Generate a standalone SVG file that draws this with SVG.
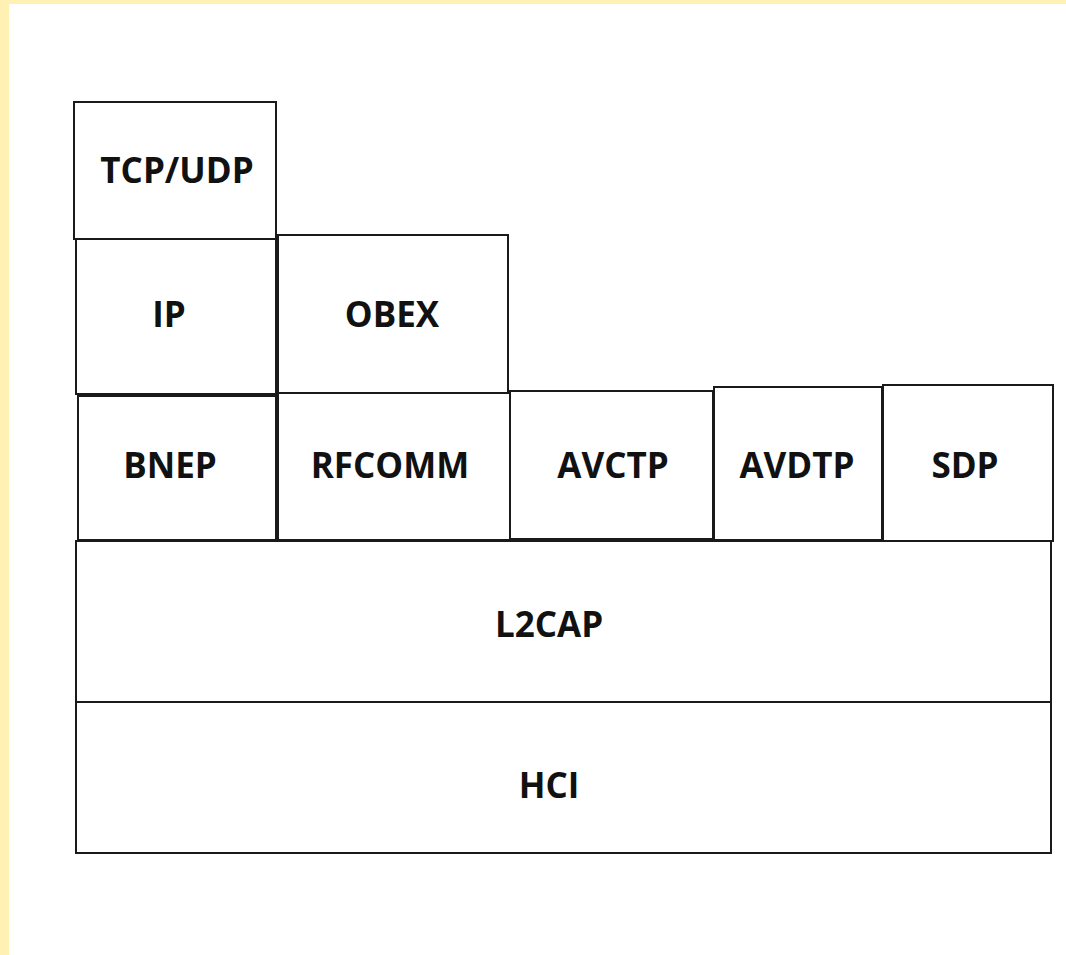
<svg xmlns="http://www.w3.org/2000/svg" width="1066" height="955" viewBox="0 0 1066 955">
<style>
.box{fill:#fff;stroke:#1a1a1a;stroke-width:2}
.lbl{font-family:"Open Sans","Liberation Sans",sans-serif;font-weight:bold;font-size:35px;fill:#111;text-anchor:middle;dominant-baseline:central}
</style>
<rect x="0" y="0" width="1066" height="955" fill="#fff"/>
<rect x="0" y="0" width="1066" height="4" fill="#fff0b3"/>
<rect x="0" y="0" width="9" height="955" fill="#fff0b3"/>
<g id="tcpudp"><rect class="box" x="74" y="102" width="202" height="137"/><text class="lbl" x="177" y="169">TCP/UDP</text></g>
<g id="ip"><rect class="box" x="76" y="239" width="200" height="155"/><text class="lbl" x="169" y="313">IP</text></g>
<g id="obex"><rect class="box" x="278" y="235" width="230" height="158"/><text class="lbl" x="392" y="313">OBEX</text></g>
<g id="bnep"><rect class="box" x="78" y="396" width="198" height="144"/><text class="lbl" x="170" y="464">BNEP</text></g>
<g id="rfcomm"><rect class="box" x="278" y="393" width="232" height="147"/><text class="lbl" x="390" y="464">RFCOMM</text></g>
<g id="avctp"><rect class="box" x="510" y="391" width="203" height="148"/><text class="lbl" x="613" y="464">AVCTP</text></g>
<g id="avdtp"><rect class="box" x="714" y="387" width="168" height="153"/><text class="lbl" x="797" y="464">AVDTP</text></g>
<g id="sdp"><rect class="box" x="883" y="385" width="170" height="156"/><text class="lbl" x="965" y="464">SDP</text></g>
<g id="l2cap"><rect class="box" x="76" y="541" width="975" height="161"/><text class="lbl" x="549" y="623">L2CAP</text></g>
<g id="hci"><rect class="box" x="76" y="702" width="975" height="151"/><text class="lbl" x="549" y="784">HCI</text></g>
<g id="connectors"/>
</svg>
